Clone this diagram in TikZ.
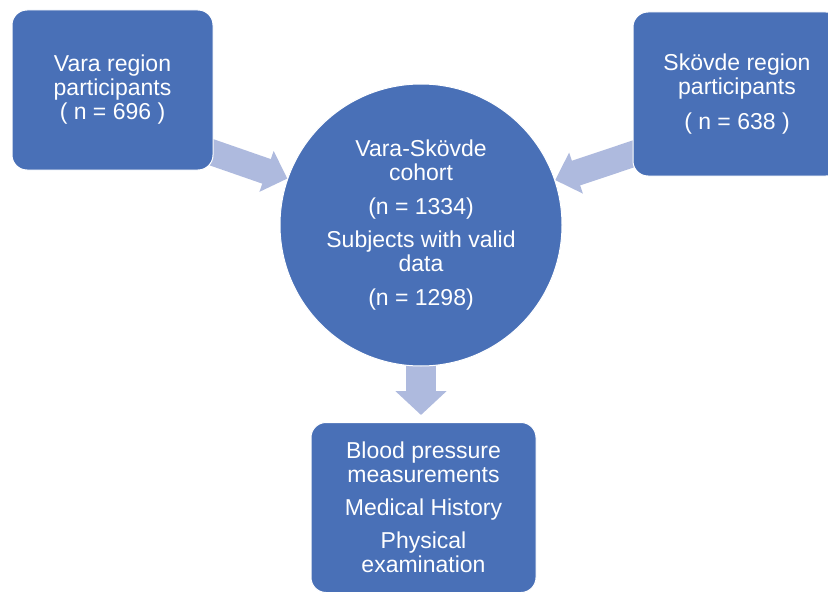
\documentclass[tikz,border=0pt]{standalone}
\usepackage{fontspec}
\setmainfont{Liberation Sans}
\usetikzlibrary{arrows.meta,backgrounds}

\definecolor{boxblue}{HTML}{4970B7}
\definecolor{arrowblue}{HTML}{AEBADE}

\begin{document}
\begin{tikzpicture}[x=1pt,y=-1pt,
    block/.style={draw=white, line width=1pt, fill=boxblue, text=white,
        rounded corners=15pt, align=center, inner sep=0pt,
        font=\fontsize{23}{24}\selectfont},
    hub/.style={circle, draw=white, line width=1pt, fill=boxblue, text=white,
        align=center, inner sep=0pt, minimum size=282pt,
        font=\fontsize{23}{24}\selectfont},
    sidearrow/.style={arrowblue, line width=26pt,
        -{Triangle[width=42pt,length=22pt]}},
    downarrow/.style={arrowblue, line width=30pt,
        -{Triangle[width=50pt,length=24pt]}}]

    % Fix the size of the page to the reference
    \useasboundingbox (0,0) rectangle (828,594);

    % The two regional groups at the top
    \node[block, minimum width=201pt, minimum height=160pt] (vara) at (112.5,90)
        {Vara region\\participants\\( n = 696 )};
    \node[block, minimum width=208pt, minimum height=164pt] (skovde) at (737,94)
        {Skövde region\\participants\\[11pt]( n = 638 )};

    % The joint cohort in the middle
    \node[hub] (cohort) at (421,225)
        {Vara-Skövde\\cohort\\[10pt](n = 1334)\\[9pt]Subjects with valid\\data\\[10pt](n = 1298)};

    % What was collected
    \node[block, minimum width=225pt, minimum height=170pt] (tests) at (423.5,507.5)
        {Blood pressure\\measurements\\[9pt]Medical History\\[9pt]Physical\\examination};

    % Start points of the side arrows, hidden behind the boxes
    \coordinate (varaout) at (205,150);
    \coordinate (skovdeout) at (645,150);

    % Broad arrows drawn behind the shapes
    \begin{scope}[on background layer]
        \draw[sidearrow] (varaout) -- (cohort);
        \draw[sidearrow] (skovdeout) -- (cohort);
        \draw[downarrow, shorten >=7pt] (cohort.center) -- (cohort.center |- tests.north);
    \end{scope}

\end{tikzpicture}
\end{document}
